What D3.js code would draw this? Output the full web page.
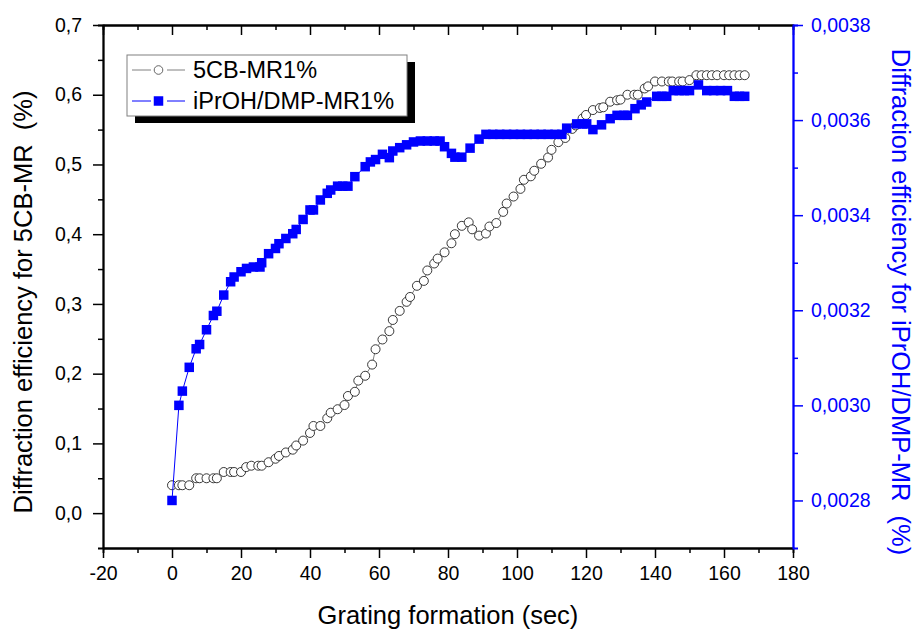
<!DOCTYPE html>
<html>
<head>
<meta charset="utf-8">
<script src="https://cdn.jsdelivr.net/npm/d3@7"></script>
<style>
  html, body { margin: 0; padding: 0; background: #fff; }
  svg { display: block; font-family: "Liberation Sans", Arial, sans-serif; }
</style>
</head>
<body>
<svg id="chart" width="917" height="631"></svg>
<script>
// 5CB-MR1% (left axis)
const cbTime = [0, 2, 3, 5, 7, 8, 10, 12, 13, 15, 17, 18, 20, 21.5, 23, 25, 26, 28, 30, 31,
  33, 35, 36, 38, 40, 41, 43, 45, 46, 48, 50, 51, 53, 54, 56, 58, 59, 61, 63, 64,
  66, 68, 69, 71, 73, 74, 76, 77, 79, 81, 82, 84, 86, 87, 89, 91, 92, 94, 96, 97,
  99, 101, 102, 104, 105, 107, 109, 110, 112, 114, 116, 117, 119, 120, 122, 124, 125, 127, 129, 130,
  132, 134, 135, 137, 138, 140, 142, 144, 145, 147, 148, 150, 152, 153.5, 155, 156.5, 158, 160, 161.5, 163,
  164.5, 166];
const cbEff = [0.040, 0.040, 0.040, 0.040, 0.050, 0.050, 0.050, 0.050, 0.050, 0.059, 0.059, 0.059, 0.059, 0.066, 0.068, 0.068, 0.068, 0.073, 0.078, 0.082,
  0.087, 0.091, 0.097, 0.104, 0.115, 0.125, 0.125, 0.136, 0.144, 0.149, 0.155, 0.168, 0.174, 0.190, 0.197, 0.213, 0.235, 0.249, 0.261, 0.277,
  0.290, 0.303, 0.310, 0.326, 0.333, 0.348, 0.358, 0.365, 0.374, 0.387, 0.400, 0.412, 0.417, 0.407, 0.398, 0.401, 0.411, 0.416, 0.432, 0.444,
  0.454, 0.465, 0.478, 0.483, 0.491, 0.501, 0.510, 0.521, 0.532, 0.538, 0.551, 0.556, 0.566, 0.571, 0.578, 0.581, 0.582, 0.590, 0.592, 0.593,
  0.600, 0.600, 0.600, 0.609, 0.612, 0.619, 0.619, 0.619, 0.619, 0.619, 0.619, 0.621, 0.628, 0.628, 0.628, 0.628, 0.628, 0.628, 0.628, 0.628,
  0.628, 0.628];

// iPrOH/DMP-MR1% (right axis)
const dmpTime = [0, 2, 3, 5, 7, 8, 10, 12, 13, 15, 17, 18, 20, 21.6, 23.6, 25.5, 26, 28, 30, 31,
  33, 35, 36, 38, 40, 41, 43, 45, 46, 48, 49.5, 51, 53, 56, 57.5, 59, 61, 63, 64, 66,
  68, 70, 72, 74, 76, 77.7, 79, 81, 82, 84, 86.4, 89, 91, 93, 95, 97, 99, 101, 103, 105,
  107, 109, 111, 113, 114.4, 117.3, 119, 120.2, 122, 124.5, 127, 129, 131, 132, 134.2, 136, 137.6, 140.5, 142, 143.4,
  145.3, 147, 148.5, 150, 152.6, 155, 157, 159, 161, 163, 164.5, 166];
const dmpEff = [0.00280, 0.00300, 0.00303, 0.00308, 0.003119, 0.003128, 0.003159, 0.003189, 0.003198, 0.003232, 0.00326, 0.00327, 0.003281, 0.003288, 0.003291, 0.003291, 0.0033, 0.003319, 0.00333, 0.00334,
  0.003351, 0.003361, 0.00337, 0.003391, 0.003411, 0.003411, 0.003432, 0.003446, 0.003453, 0.003461, 0.003461, 0.003461, 0.003481, 0.003502, 0.003512, 0.003517, 0.003528, 0.003521, 0.003535, 0.003542,
  0.003548, 0.003554, 0.003556, 0.003556, 0.003556, 0.003556, 0.003544, 0.00353, 0.003522, 0.003522, 0.003541, 0.00356, 0.00357, 0.00357, 0.00357, 0.00357, 0.00357, 0.00357, 0.00357, 0.00357,
  0.00357, 0.00357, 0.00357, 0.00357, 0.003583, 0.003592, 0.003592, 0.003592, 0.00358, 0.00359, 0.003603, 0.00361, 0.00361, 0.00361, 0.003624, 0.003632, 0.003638, 0.00365, 0.00365, 0.00365,
  0.003662, 0.003662, 0.003662, 0.003662, 0.003674, 0.003662, 0.003662, 0.003662, 0.003662, 0.00365, 0.00365, 0.00365];

const xTicks = [-20, 0, 20, 40, 60, 80, 100, 120, 140, 160, 180];
const leftTicks = [0, 0.1, 0.2, 0.3, 0.4, 0.5, 0.6, 0.7];
const rightTicks = [0.0028, 0.0030, 0.0032, 0.0034, 0.0036, 0.0038];
const seriesNames = ["5CB-MR1%", "iPrOH/DMP-MR1%"];

const margin = {top: 25, right: 124, bottom: 83, left: 103};
const width = 917 - margin.left - margin.right;
const height = 631 - margin.top - margin.bottom;
const blue = "#0000ff";
const comma = d => String(d).replace(".", ",");

const svg = d3.select("#chart");
const g = svg.append("g").attr("transform", `translate(${margin.left},${margin.top})`);

const x = d3.scaleLinear().domain([-20, 180]).range([0, width]);
const yL = d3.scaleLinear().domain([-0.05, 0.7]).range([height, 0]);
const yR = d3.scaleLinear().domain([0.0027, 0.0038]).range([height, 0]);

// minor tick positions halfway between majors
const xMinor = d3.range(-10, 180, 20);
const lMinor = d3.range(0.05, 0.7, 0.1);
const rMinor = d3.range(0.0029, 0.0038, 0.0002);

function styleAxis(sel, color) {
  sel.select(".domain").attr("stroke", color).attr("stroke-width", 1.8);
  sel.selectAll(".tick line").attr("stroke", color).attr("stroke-width", 1.5);
  sel.selectAll(".tick text").attr("fill", color).style("font-size", "19.5px");
}

// bottom
g.append("g").attr("transform", `translate(0,${height})`)
  .call(d3.axisBottom(x).tickValues(xMinor).tickSize(5).tickFormat(""))
  .call(s => styleAxis(s, "#000"));
g.append("g").attr("transform", `translate(0,${height})`)
  .call(d3.axisBottom(x).tickValues(xTicks).tickSize(10).tickPadding(8).tickFormat(d => String(d)).tickSizeOuter(0))
  .call(s => styleAxis(s, "#000"));

// top (ticks inward, no labels)
g.append("g")
  .call(d3.axisTop(x).tickValues(xMinor).tickSize(-5).tickFormat(""))
  .call(s => styleAxis(s, "#000"));
g.append("g")
  .call(d3.axisTop(x).tickValues(xTicks).tickSize(-10).tickFormat("").tickSizeOuter(0))
  .call(s => styleAxis(s, "#000"));

// left
g.append("g")
  .call(d3.axisLeft(yL).tickValues(lMinor).tickSize(5).tickFormat(""))
  .call(s => styleAxis(s, "#000"));
g.append("g")
  .call(d3.axisLeft(yL).tickValues(leftTicks).tickSize(10).tickPadding(11)
    .tickFormat(d => comma(d.toFixed(1))).tickSizeOuter(0))
  .call(s => styleAxis(s, "#000"));

// right (blue)
g.append("g").attr("transform", `translate(${width},0)`)
  .call(d3.axisRight(yR).tickValues(rMinor).tickSize(5).tickFormat(""))
  .call(s => styleAxis(s, blue));
g.append("g").attr("transform", `translate(${width},0)`)
  .call(d3.axisRight(yR).tickValues(rightTicks).tickSize(10).tickPadding(8)
    .tickFormat(d => comma(d.toFixed(4))).tickSizeOuter(0))
  .call(s => styleAxis(s, blue));

// 5CB series
const cb = cbTime.map((t, i) => [t, cbEff[i]]);
g.append("path").datum(cb)
  .attr("fill", "none").attr("stroke", "#808080").attr("stroke-width", 1)
  .attr("d", d3.line().x(d => x(d[0])).y(d => yL(d[1])));
g.append("g").selectAll("circle").data(cb).join("circle")
  .attr("cx", d => x(d[0])).attr("cy", d => yL(d[1])).attr("r", 4.5)
  .attr("fill", "#fff").attr("stroke", "#222").attr("stroke-width", 0.9);

// iPrOH/DMP series
const dmp = dmpTime.map((t, i) => [t, dmpEff[i]]);
const sq = 9.5;
g.append("path").datum(dmp)
  .attr("fill", "none").attr("stroke", blue).attr("stroke-width", 1)
  .attr("d", d3.line().x(d => x(d[0])).y(d => yR(d[1])));
g.append("g").selectAll("rect").data(dmp).join("rect")
  .attr("x", d => x(d[0]) - sq / 2).attr("y", d => yR(d[1]) - sq / 2)
  .attr("width", sq).attr("height", sq).attr("fill", blue);

// axis titles
svg.append("text")
  .attr("transform", `translate(32,302) rotate(-90)`)
  .attr("text-anchor", "middle").style("font-size", "25.5px").style("white-space", "pre")
  .text("Diffraction efficiency for 5CB-MR  (%)");
svg.append("text")
  .attr("transform", `translate(892,302) rotate(90)`)
  .attr("text-anchor", "middle").attr("fill", blue).style("font-size", "25.5px").style("white-space", "pre")
  .text("Diffraction efficiency for iPrOH/DMP-MR  (%)");
svg.append("text")
  .attr("x", margin.left + width / 2).attr("y", 624)
  .attr("text-anchor", "middle").style("font-size", "25.5px")
  .text("Grating formation (sec)");

// legend with drop shadow
const lg = svg.append("g").attr("transform", "translate(127,55)");
lg.append("rect").attr("x", 8).attr("y", 7).attr("width", 280).attr("height", 61).attr("fill", "#000");
lg.append("rect").attr("x", 0).attr("y", 0).attr("width", 280).attr("height", 61)
  .attr("fill", "#fff").attr("stroke", "#808080").attr("stroke-width", 1);

const rows = [
  {y: 15, line: "#808080", mark: "circle"},
  {y: 46, line: blue, mark: "square"}
];
rows.forEach((r, i) => {
  const row = lg.append("g").attr("transform", `translate(0,${r.y})`);
  row.append("line").attr("x1", 5).attr("x2", 24).attr("stroke", r.line).attr("stroke-width", 1);
  row.append("line").attr("x1", 40).attr("x2", 58).attr("stroke", r.line).attr("stroke-width", 1);
  if (r.mark === "circle") {
    row.append("circle").attr("cx", 31.5).attr("r", 4.3)
      .attr("fill", "#fff").attr("stroke", "#555").attr("stroke-width", 0.9);
  } else {
    row.append("rect").attr("x", 31.5 - sq / 2).attr("y", -sq / 2)
      .attr("width", sq).attr("height", sq).attr("fill", blue);
  }
  row.append("text").attr("x", 66).attr("y", 8).style("font-size", "23.5px")
    .text(seriesNames[i]);
});
</script>
</body>
</html>
